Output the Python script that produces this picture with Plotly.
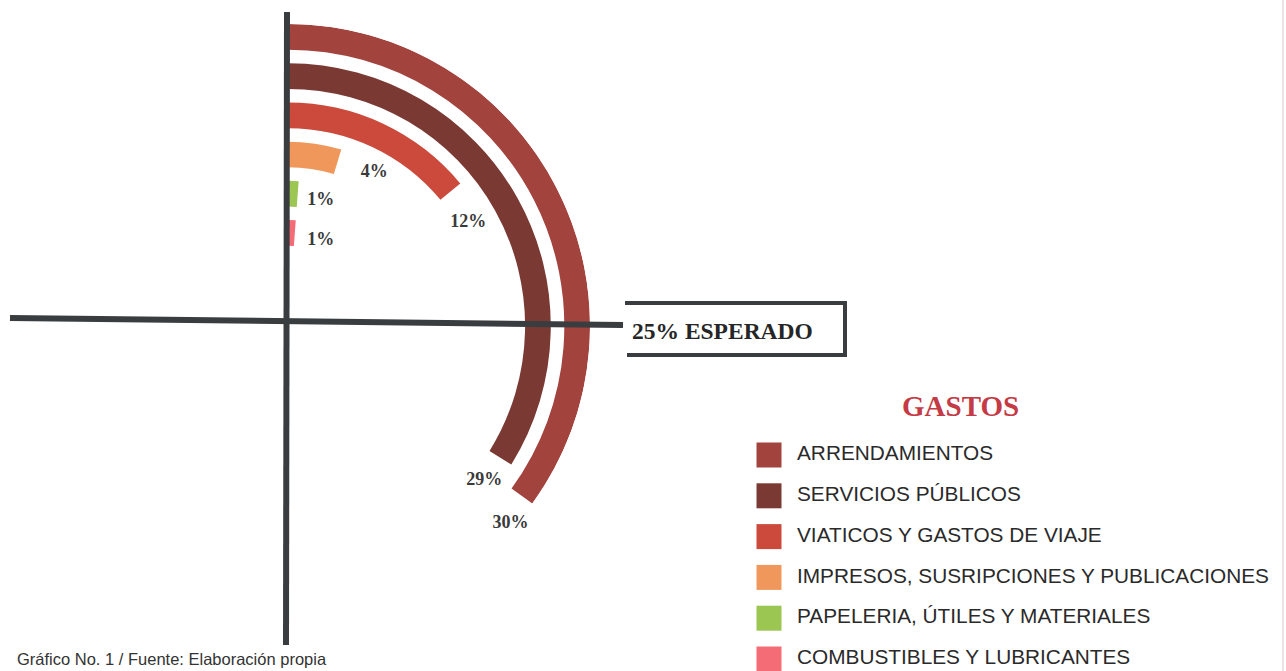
import plotly.graph_objects as go

# ---------------- data ----------------
categories = [
    "ARRENDAMIENTOS",
    "SERVICIOS PÚBLICOS",
    "VIATICOS Y GASTOS DE VIAJE",
    "IMPRESOS, SUSRIPCIONES Y PUBLICACIONES",
    "PAPELERIA, ÚTILES Y MATERIALES",
    "COMBUSTIBLES Y LUBRICANTES",
]
values = [30, 29, 12, 4, 1, 1]
value_labels = ["30%", "29%", "12%", "4%", "1%", "1%"]
colors = ["#A3433E", "#7A3A33", "#CB4A3C", "#F0985C", "#9CC652", "#F46C76"]
expected_label = "25% ESPERADO"
legend_title = "GASTOS"
footnote = "Gráfico No. 1 / Fuente: Elaboración propia"

# ---------------- layout constants ----------------
W, H = 1286, 671
CX, CY = 288, 326          # centre of the radial chart (px)
R_PX = 302                 # pixel radius of the polar area
DEG_PER_PCT = 4.2          # angular scale
OUTER = 288                # radial axis max
RING_STEP = 37.4
RING_W = 24.5
# label offsets (angle, radius) relative to each bar end
label_dtheta = [5.6, 6.5, 9.7, 12.6, 10.4, 16.7]
label_dr = [8.0, 0.0, -2.7, 4.0, -2.5, -1.0]

n = len(values)
bases = [OUTER - RING_W - RING_STEP * i for i in range(n)]
theta_c = [v * DEG_PER_PCT / 2 for v in values]
widths = [v * DEG_PER_PCT for v in values]

fig = go.Figure()

fig.add_trace(go.Barpolar(
    r=[RING_W] * n,
    base=bases,
    theta=theta_c,
    width=widths,
    marker=dict(color=colors, line=dict(width=0)),
    showlegend=False,
    hoverinfo="skip",
))

fig.add_trace(go.Scatterpolar(
    r=[b + RING_W / 2 + d for b, d in zip(bases, label_dr)],
    theta=[v * DEG_PER_PCT + d for v, d in zip(values, label_dtheta)],
    mode="text",
    text=value_labels,
    textfont=dict(family="Liberation Serif", size=18, color="#3a3a3a", weight="bold"),
    cliponaxis=False,
    showlegend=False,
    hoverinfo="skip",
))

# legend built from the category list
LEG_X, LEG_Y0, LEG_DY, LEG_TX = 769, 455, 40.8, 797
leg_y = [LEG_Y0 + LEG_DY * i for i in range(n)]
fig.add_trace(go.Scatter(
    x=[LEG_X] * n, y=leg_y, mode="markers",
    marker=dict(symbol="square", size=25, color=colors, line=dict(width=0)),
    showlegend=False, hoverinfo="skip",
))
fig.add_trace(go.Scatter(
    x=[LEG_TX] * n, y=leg_y, mode="text", text=categories,
    textposition="middle right",
    textfont=dict(family="Liberation Sans", size=20.8, color="#2a2a2a"),
    showlegend=False, hoverinfo="skip", cliponaxis=False,
))

line_col = "#3a3d40"
shapes = [
    # vertical axis
    dict(type="line", xref="x", yref="y", x0=287, x1=286, y0=12, y1=645,
         line=dict(color=line_col, width=6)),
    # horizontal axis
    dict(type="line", xref="x", yref="y", x0=10, x1=623, y0=318, y1=325,
         line=dict(color=line_col, width=6)),
    # expected box (open on the left)
    dict(type="path", xref="x", yref="y",
         path="M 625 303 L 845 303 L 845 355 L 627 355",
         line=dict(color=line_col, width=4)),
    # scan border on the right
    dict(type="line", xref="x", yref="y", x0=1283, x1=1283, y0=0, y1=671,
         line=dict(color="#d9c9c9", width=1)),
]

annotations = [
    dict(x=722, y=331, xref="x", yref="y", text=expected_label, showarrow=False,
         font=dict(family="Liberation Serif", size=23.5, color="#262626", weight="bold")),
    dict(x=960, y=406, xref="x", yref="y", text=legend_title, showarrow=False,
         font=dict(family="Liberation Serif", size=29, color="#C43A45", weight="bold")),
    dict(x=15, y=659, xref="x", yref="y", text=footnote, showarrow=False,
         xanchor="left", yanchor="middle",
         font=dict(family="Liberation Sans", size=16.5, color="#333333")),
]

fig.update_layout(
    width=W, height=H, autosize=False,
    margin=dict(l=0, r=0, t=0, b=0),
    paper_bgcolor="white", plot_bgcolor="rgba(0,0,0,0)",
    polar=dict(
        domain=dict(x=[CX / W, (CX + R_PX) / W], y=[(H - CY - R_PX) / H, (H - CY + R_PX) / H]),
        sector=[-90, 90],
        bgcolor="rgba(0,0,0,0)",
        angularaxis=dict(rotation=90, direction="clockwise", visible=False,
                         showgrid=False, showline=False, showticklabels=False, ticks=""),
        radialaxis=dict(range=[0, OUTER], visible=False, showgrid=False,
                        showline=False, showticklabels=False, ticks=""),
    ),
    xaxis=dict(range=[0, W], domain=[0, 1], visible=False, fixedrange=True),
    yaxis=dict(range=[H, 0], domain=[0, 1], visible=False, fixedrange=True),
    shapes=shapes,
    annotations=annotations,
)

fig.write_html(
    "out.html",
    config={"displayModeBar": False},
    post_script="document.body.style.margin='0';document.body.style.overflow='hidden';",
)
